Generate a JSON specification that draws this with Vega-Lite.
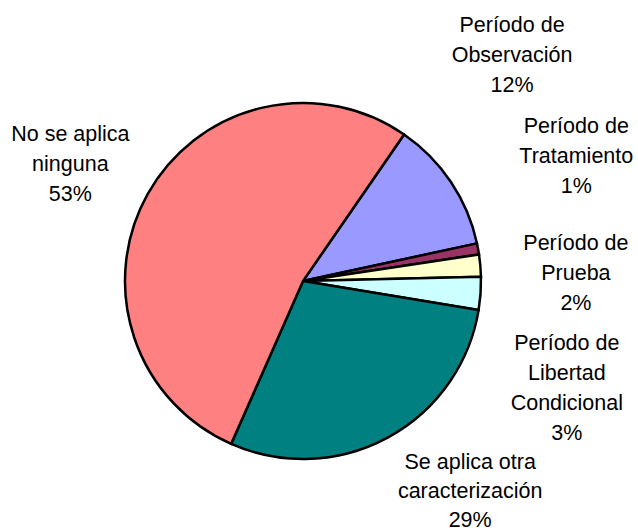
{
  "$schema": "https://vega.github.io/schema/vega-lite/v6.json",
  "width": 606,
  "height": 502,
  "autosize": "none",
  "padding": {"left": 0, "top": 30, "right": 32, "bottom": 0},
  "background": "white",
  "config": {"view": {"stroke": null}},
  "data": {
    "values": [
      {"cat": "Período de Observación", "pct": 12, "order": 1, "label": "Período de\nObservación\n12%"},
      {"cat": "Período de Tratamiento", "pct": 1, "order": 2, "label": "Período de\nTratamiento\n1%"},
      {"cat": "Período de Prueba", "pct": 2, "order": 3, "label": "Período de\nPrueba\n2%"},
      {"cat": "Período de Libertad Condicional", "pct": 3, "order": 4, "label": "Período de\nLibertad\nCondicional\n3%"},
      {"cat": "Se aplica otra caracterización", "pct": 29, "order": 5, "label": "Se aplica otra\ncaracterización\n29%"},
      {"cat": "No se aplica ninguna", "pct": 53, "order": 6, "label": "No se aplica\nninguna\n53%"}
    ]
  },
  "encoding": {
    "theta": {"field": "pct", "type": "quantitative", "stack": true, "scale": {"range": [0.604, 6.887]}},
    "order": {"field": "order", "type": "quantitative"}
  },
  "layer": [
    {
      "mark": {"type": "arc", "radius": 178, "stroke": "black", "strokeWidth": 2.5},
      "encoding": {
        "color": {
          "field": "cat", "type": "nominal", "legend": null,
          "scale": {
            "domain": ["Período de Observación", "Período de Tratamiento", "Período de Prueba", "Período de Libertad Condicional", "Se aplica otra caracterización", "No se aplica ninguna"],
            "range": ["#9999FF", "#993366", "#FFFFCC", "#CCFFFF", "#008080", "#FF8080"]
          }
        }
      }
    },
    {
      "mark": {"type": "text", "radius": 307, "thetaOffset": -0.232, "dy": -30, "fontSize": 21.5, "lineHeight": 30, "lineBreak": "\n", "font": "Liberation Sans", "align": "center", "baseline": "middle", "color": "black"},
      "encoding": {"text": {"condition": {"test": "datum.order === 1", "field": "label", "type": "nominal"}, "value": ""}}
    },
    {
      "mark": {"type": "text", "radius": 300, "thetaOffset": -0.244, "dy": -30, "fontSize": 21.5, "lineHeight": 30, "lineBreak": "\n", "font": "Liberation Sans", "align": "center", "baseline": "middle", "color": "black"},
      "encoding": {"text": {"condition": {"test": "datum.order === 2", "field": "label", "type": "nominal"}, "value": ""}}
    },
    {
      "mark": {"type": "text", "radius": 273, "thetaOffset": 0.061, "dy": -30, "fontSize": 21.5, "lineHeight": 30, "lineBreak": "\n", "font": "Liberation Sans", "align": "center", "baseline": "middle", "color": "black"},
      "encoding": {"text": {"condition": {"test": "datum.order === 3", "field": "label", "type": "nominal"}, "value": ""}}
    },
    {
      "mark": {"type": "text", "radius": 285, "thetaOffset": 0.318, "dy": -45, "fontSize": 21.5, "lineHeight": 30, "lineBreak": "\n", "font": "Liberation Sans", "align": "center", "baseline": "middle", "color": "black"},
      "encoding": {"text": {"condition": {"test": "datum.order === 4", "field": "label", "type": "nominal"}, "value": ""}}
    },
    {
      "mark": {"type": "text", "radius": 269, "thetaOffset": -0.175, "dy": -29, "fontSize": 21.5, "lineHeight": 29, "lineBreak": "\n", "font": "Liberation Sans", "align": "center", "baseline": "middle", "color": "black"},
      "encoding": {"text": {"condition": {"test": "datum.order === 5", "field": "label", "type": "nominal"}, "value": ""}}
    },
    {
      "mark": {"type": "text", "radius": 260, "thetaOffset": -0.047, "dy": -30, "fontSize": 21.5, "lineHeight": 30, "lineBreak": "\n", "font": "Liberation Sans", "align": "center", "baseline": "middle", "color": "black"},
      "encoding": {"text": {"condition": {"test": "datum.order === 6", "field": "label", "type": "nominal"}, "value": ""}}
    }
  ]
}
